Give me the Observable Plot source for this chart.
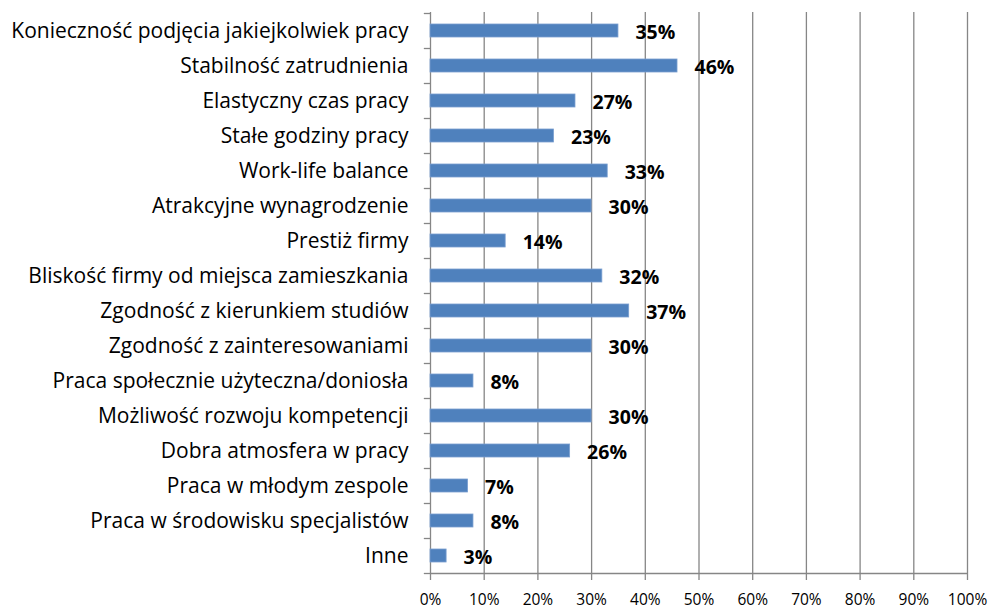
<!DOCTYPE html>
<html>
<head>
<meta charset="utf-8">
<script src="https://cdn.jsdelivr.net/npm/d3@7"></script>
<script src="https://cdn.jsdelivr.net/npm/@observablehq/plot@0.6"></script>
<style>
  html, body { margin: 0; padding: 0; background: #fff; }
  #chart svg { display: block; }
</style>
</head>
<body>
<div id="chart"></div>
<script>
const categories = [
  "Konieczność podjęcia jakiejkolwiek pracy",
  "Stabilność zatrudnienia",
  "Elastyczny czas pracy",
  "Stałe godziny pracy",
  "Work-life balance",
  "Atrakcyjne wynagrodzenie",
  "Prestiż firmy",
  "Bliskość firmy od miejsca zamieszkania",
  "Zgodność z kierunkiem studiów",
  "Zgodność z zainteresowaniami",
  "Praca społecznie użyteczna/doniosła",
  "Możliwość rozwoju kompetencji",
  "Dobra atmosfera w pracy",
  "Praca w młodym zespole",
  "Praca w środowisku specjalistów",
  "Inne"
];
const values = [35, 46, 27, 23, 33, 30, 14, 32, 37, 30, 8, 30, 26, 7, 8, 3];
const xTicks = [0, 10, 20, 30, 40, 50, 60, 70, 80, 90, 100];

const data = categories.map((c, i) => ({category: c, value: values[i]}));
const gridColor = "#868686";
const font = "'Open Sans', 'Liberation Sans', sans-serif";

const chart = Plot.plot({
  width: 994,
  height: 609,
  marginLeft: 430,
  marginRight: 27,
  marginTop: 12,
  marginBottom: 36,
  style: {fontFamily: font, fontSize: "17px", color: "#000", background: "#fff"},
  x: {domain: [0, 100], ticks: xTicks},
  y: {domain: categories, padding: 0},
  marks: [
    Plot.ruleX(xTicks.slice(1), {stroke: gridColor, strokeWidth: 1.3}),
    Plot.ruleX([0], {stroke: gridColor, strokeWidth: 1.3}),
    Plot.ruleY([categories[categories.length - 1]], {x1: 0, x2: 100, dy: 17.5, stroke: gridColor, strokeWidth: 1.3}),
    Plot.ruleY(categories, {y: d => d, x1: -1.15, x2: 0, dy: -17.5, stroke: gridColor, strokeWidth: 1.3}),
    Plot.ruleY([categories[categories.length - 1]], {x1: -1.15, x2: 0, dy: 17.5, stroke: gridColor, strokeWidth: 1.3}),
    Plot.barX(data, {y: "category", x: "value", fill: "#4F81BD", stroke: "#7A9FD0", strokeWidth: 0.8, insetTop: 11, insetBottom: 11}),
    Plot.text(data, {y: "category", x: "value", text: d => d.value + "%", textAnchor: "start", dx: 17, dy: 2, fontWeight: "bold", fontSize: 19.5, fill: "#000"}),
    Plot.axisY({tickSize: 0, tickPadding: 22, fontSize: 21, fill: "#000", label: null}),
    Plot.axisX(xTicks, {tickSize: 7, tickPadding: 13, stroke: gridColor, strokeWidth: 1.3, fontSize: 15.5, fill: "#000", tickFormat: d => d + "%", label: null})
  ]
});
document.getElementById("chart").appendChild(chart);
</script>
</body>
</html>
